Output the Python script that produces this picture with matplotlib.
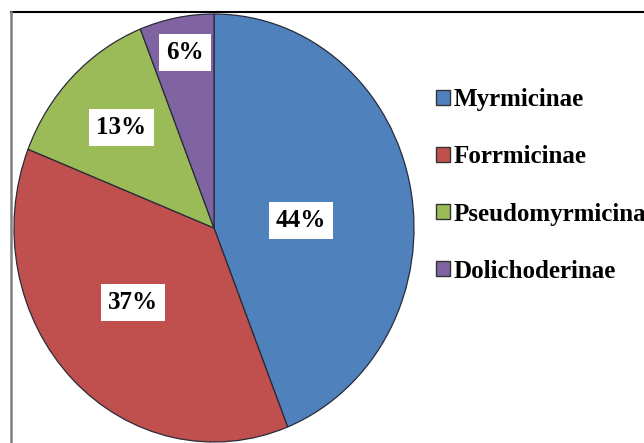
import matplotlib
matplotlib.use("Agg")
import matplotlib.pyplot as plt
from matplotlib.patches import Patch
from matplotlib.lines import Line2D

categories = ["Myrmicinae", "Forrmicinae", "Pseudomyrmicinae", "Dolichoderinae"]
values = [44, 37, 13, 6]
colors = ["#4F81BD", "#C0504D", "#9BBB59", "#8064A2"]
label_pos = [(0.435, 0.037), (-0.405, -0.35), (-0.4625, 0.47), (-0.145, 0.818)]

W, H = 644, 443
fig = plt.figure(figsize=(W / 100, H / 100), dpi=100)
fig.patch.set_facecolor("white")

cx, cy, rx, ry = 214, 228, 200, 214
ax = fig.add_axes([(cx - rx) / W, (H - cy - ry) / H, 2 * rx / W, 2 * ry / H])
wedges, _ = ax.pie(values, colors=colors, startangle=90, counterclock=False,
                   wedgeprops=dict(edgecolor="#2a2a3a", linewidth=0.9))
ax.set_aspect("auto")
ax.set_xlim(-1, 1)
ax.set_ylim(-1, 1)
ax.axis("off")
for w in wedges:
    w.set_clip_on(False)

for v, (x, y) in zip(values, label_pos):
    ax.text(x, y, f"{v}%", ha="center", va="center", fontsize=18,
            fontweight="bold", family="Liberation Serif",
            bbox=dict(boxstyle="square,pad=0.28", fc="white", ec="none"))

handles = [Patch(facecolor=c, edgecolor="#333333", linewidth=1.0) for c in colors]
leg = fig.legend(handles, categories, loc="upper left",
                 bbox_to_anchor=(426 / W, 1 - 78 / H), frameon=False,
                 prop=dict(family="Liberation Serif", weight="bold", size=18),
                 handlelength=0.55, handleheight=0.55, handletextpad=0.15,
                 labelspacing=1.37, borderaxespad=0)

fig.add_artist(Line2D([11 / W, 1], [1 - 12 / H, 1 - 12 / H], color="black", lw=1.5))
fig.add_artist(Line2D([11 / W, 11 / W], [0, 1 - 12 / H], color="#808080", lw=1.8))

fig.savefig("out.png", dpi=100, facecolor="white")
